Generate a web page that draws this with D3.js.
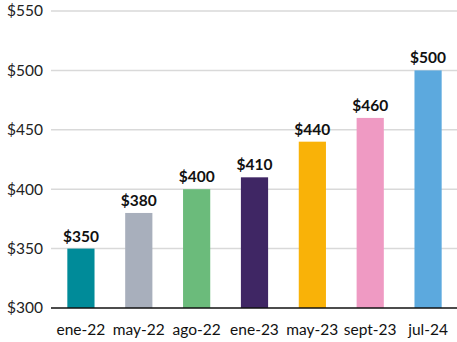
<!DOCTYPE html>
<html><head><meta charset="utf-8">
<script src="https://cdn.jsdelivr.net/npm/d3@7"></script>
<style>body{margin:0;background:#fff}svg{display:block;font-family:Lato,sans-serif}</style>
</head><body>
<svg id="c" width="457" height="342"></svg>
<script>
const categories = ["ene-22","may-22","ago-22","ene-23","may-23","sept-23","jul-24"];
const values = [350,380,400,410,440,460,500];
const colors = ["#008b99","#a8afbc","#6bbb7b","#3f2664","#f9b208","#ef9ac3","#5ca9de"];
const yTicks = [300,350,400,450,500,550];

const svg = d3.select("#c");
const x = d3.scaleBand().domain(categories).range([52,457]).paddingInner(0.53).paddingOuter(0.265);
const y = d3.scaleLinear().domain([300,550]).range([308,11]);

svg.append("g").selectAll("line").data(yTicks.slice(1)).join("line")
  .attr("x1",51).attr("x2",457).attr("y1",d=>y(d)).attr("y2",d=>y(d))
  .attr("stroke","#d9d9d9").attr("stroke-width",1.5);

svg.append("g").selectAll("text").data(yTicks).join("text")
  .attr("x",43).attr("y",d=>y(d)).attr("dy","0.35em").attr("text-anchor","end")
  .attr("font-size",15.5).attr("fill","#222").text(d=>"$"+d);

svg.append("g").selectAll("rect").data(values).join("rect")
  .attr("x",(d,i)=>x(categories[i])).attr("width",x.bandwidth())
  .attr("y",d=>y(d)).attr("height",d=>y(300)-y(d))
  .attr("fill",(d,i)=>colors[i]);

svg.append("g").selectAll("text").data(values).join("text")
  .attr("x",(d,i)=>x(categories[i])+x.bandwidth()/2).attr("y",d=>y(d)-7)
  .attr("text-anchor","middle").attr("font-size",15.5).attr("font-weight","bold")
  .attr("fill","#111").text(d=>"$"+d);

svg.append("line").attr("x1",51).attr("x2",457).attr("y1",y(300)).attr("y2",y(300))
  .attr("stroke","#111").attr("stroke-width",1.5);

svg.append("g").selectAll("text").data(categories).join("text")
  .attr("x",d=>x(d)+x.bandwidth()/2).attr("y",330).attr("dy","0.35em")
  .attr("text-anchor","middle").attr("font-size",15.5).attr("fill","#111").text(d=>d);
</script>
</body></html>
